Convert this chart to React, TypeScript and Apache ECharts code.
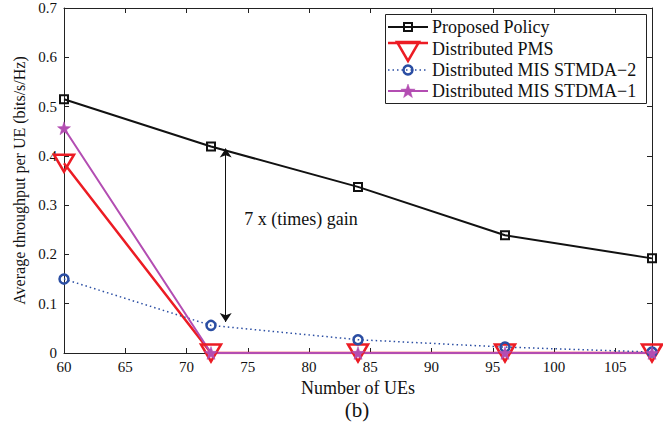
import React, { useEffect, useRef } from 'react';
import * as echarts from 'echarts';

const FONT = '"Liberation Serif", "Times New Roman", serif';

// Number of UEs in the network
const ueCounts = [60, 72, 84, 96, 108];

// Average throughput per UE (bits/s/Hz)
const proposedPolicy = [0.515, 0.419, 0.337, 0.239, 0.192];
const distributedPMS = [0.385, 0, 0, 0, 0];
const misStmda2 = [0.15, 0.056, 0.027, 0.012, 0.002];
const misStdma1 = [0.456, 0, 0, 0, 0];

const seriesNames = [
  'Proposed Policy',
  'Distributed PMS',
  'Distributed MIS STMDA\u22122',
  'Distributed MIS STDMA\u22121',
];

// Gain annotation: arrow between the two curves at x = 73.2
const gainArrowX = 73.2;
const gainArrowTop = 0.415;
const gainArrowBottom = 0.063;
const gainText = '7 x (times) gain';
const gainTextPos = [79.35, 0.2715];

const xMin = 60;
const xMax = 108;
const xStep = 5;
const yMin = 0;
const yMax = 0.7;
const yStep = 0.1;

const BLACK = '#111111';
const RED = '#ec1c24';
const BLUE = '#2b4ea3';
const MAGENTA = '#b34db2';

const STAR_PATH =
  'path://M0,-10L2.35,-3.24L9.51,-3.09L3.8,1.24L5.88,8.09L0,4L-5.88,8.09L-3.8,1.24L-9.51,-3.09L-2.35,-3.24Z';

const pairs = (ys: number[]) => ueCounts.map((x, i) => [x, ys[i]]);

function starPoints(cx: number, cy: number, r: number): number[][] {
  const pts: number[][] = [];
  for (let i = 0; i < 10; i++) {
    const a = (-90 + i * 36) * (Math.PI / 180);
    const rr = i % 2 === 0 ? r : r * 0.4;
    pts.push([cx + rr * Math.cos(a), cy + rr * Math.sin(a)]);
  }
  return pts;
}

const axisLineStyle = { color: '#222', width: 1 };

function frameAxis(extra: any) {
  return {
    type: 'value',
    axisLine: { show: true, onZero: false, lineStyle: axisLineStyle },
    axisTick: { show: true, inside: true, length: 5, lineStyle: axisLineStyle },
    splitLine: { show: false },
    ...extra,
  };
}

function buildLegend() {
  const lx1 = 388;
  const lx2 = 428;
  const cx = 408;
  const tx = 432;
  const rows = [27, 43, 70, 91];
  const textRows = [27, 48.5, 70, 91];
  const els: any[] = [
    {
      type: 'rect',
      shape: { x: 385.5, y: 14.5, width: 261, height: 89 },
      style: { fill: '#fff', stroke: '#222', lineWidth: 1 },
      z: 100,
    },
  ];
  const lineStyles = [
    { stroke: BLACK, lineWidth: 2 },
    { stroke: RED, lineWidth: 2.5 },
    { stroke: BLUE, lineWidth: 1.5, lineDash: [1.5, 3] },
    { stroke: MAGENTA, lineWidth: 2 },
  ];
  rows.forEach((y, i) => {
    els.push({
      type: 'line',
      shape: { x1: lx1, y1: y, x2: lx2, y2: y },
      style: { ...lineStyles[i] },
      z: 101,
    });
  });
  els.push({
    type: 'rect',
    shape: { x: cx - 4, y: rows[0] - 4, width: 8, height: 8 },
    style: { fill: 'none', stroke: BLACK, lineWidth: 2 },
    z: 102,
  });
  els.push({
    type: 'polygon',
    shape: { points: [[cx - 11, 42], [cx + 11, 42], [cx, 61]] },
    style: { fill: 'none', stroke: RED, lineWidth: 2.5 },
    z: 102,
  });
  els.push({
    type: 'circle',
    shape: { cx, cy: rows[2], r: 4.5 },
    style: { fill: 'none', stroke: BLUE, lineWidth: 2.5 },
    z: 102,
  });
  els.push({
    type: 'polygon',
    shape: { points: starPoints(cx, rows[3] + 0.5, 7.5) },
    style: { fill: MAGENTA, stroke: MAGENTA, lineWidth: 0.5 },
    z: 102,
  });
  seriesNames.forEach((name, i) => {
    els.push({
      type: 'text',
      x: tx,
      y: textRows[i],
      style: {
        text: name,
        fill: BLACK,
        fontSize: 18,
        fontFamily: FONT,
        align: 'left',
        verticalAlign: 'middle',
      },
      z: 102,
    });
  });
  els.push({
    type: 'text',
    x: 357,
    y: 410,
    style: {
      text: '(b)',
      fill: BLACK,
      fontSize: 21,
      fontFamily: FONT,
      align: 'center',
      verticalAlign: 'middle',
    },
  });
  return els;
}

export default function App() {
  const ref = useRef<HTMLDivElement>(null);

  useEffect(() => {
    document.body.style.margin = '0';
    const chart = echarts.init(ref.current!, null, { renderer: 'svg' });

    const option: any = {
      animation: false,
      backgroundColor: '#ffffff',
      grid: { left: 64, top: 8, width: 588, height: 345, containLabel: false },
      xAxis: [
        frameAxis({
          position: 'bottom',
          min: xMin,
          max: xMax,
          interval: xStep,
          axisLabel: {
            color: BLACK,
            fontSize: 15,
            fontFamily: FONT,
            margin: 6,
            showMaxLabel: false,
            formatter: (v: number) => (v > 105 ? '' : String(v)),
          },
          name: 'Number of UEs',
          nameLocation: 'middle',
          nameGap: 22,
          nameTextStyle: { color: BLACK, fontSize: 18, fontFamily: FONT },
        }),
        frameAxis({
          position: 'top',
          min: xMin,
          max: xMax,
          interval: xStep,
          axisLabel: { show: false },
        }),
      ],
      yAxis: [
        frameAxis({
          position: 'left',
          min: yMin,
          max: yMax,
          interval: yStep,
          axisLabel: {
            color: BLACK,
            fontSize: 15,
            fontFamily: FONT,
            margin: 7,
          },
          name: 'Average throughput per UE (bits/s/Hz)',
          nameLocation: 'middle',
          nameGap: 37,
          nameTextStyle: { color: BLACK, fontSize: 16, fontFamily: FONT },
        }),
        frameAxis({
          position: 'right',
          min: yMin,
          max: yMax,
          interval: yStep,
          axisLabel: { show: false },
        }),
      ],
      series: [
        {
          name: seriesNames[0],
          type: 'line',
          data: pairs(proposedPolicy),
          symbol: 'rect',
          symbolSize: 8,
          lineStyle: { color: BLACK, width: 2 },
          itemStyle: { color: 'rgba(0,0,0,0)', borderColor: BLACK, borderWidth: 2 },
          markLine: {
            silent: true,
            symbol: ['arrow', 'arrow'],
            symbolSize: [9, 9],
            label: { show: false },
            lineStyle: { color: BLACK, width: 1, type: 'solid' },
            data: [
              [
                { coord: [gainArrowX, gainArrowTop] },
                { coord: [gainArrowX, gainArrowBottom] },
              ],
            ],
          },
          markPoint: {
            silent: true,
            symbol: 'circle',
            symbolSize: 0,
            itemStyle: { color: 'rgba(0,0,0,0)' },
            label: {
              show: true,
              position: 'inside',
              formatter: gainText,
              color: BLACK,
              fontSize: 18,
              fontFamily: FONT,
            },
            data: [{ coord: gainTextPos }],
          },
        },
        {
          name: seriesNames[1],
          type: 'line',
          data: pairs(distributedPMS),
          symbol: 'triangle',
          symbolRotate: 180,
          symbolSize: [20, 17],
          lineStyle: { color: RED, width: 2.5 },
          itemStyle: { color: 'rgba(0,0,0,0)', borderColor: RED, borderWidth: 2.5 },
        },
        {
          name: seriesNames[2],
          type: 'line',
          data: pairs(misStmda2),
          symbol: 'circle',
          symbolSize: 9,
          lineStyle: { color: BLUE, width: 1.5, type: [1.5, 3] },
          itemStyle: { color: 'rgba(0,0,0,0)', borderColor: BLUE, borderWidth: 2.5 },
        },
        {
          name: seriesNames[3],
          type: 'line',
          data: pairs(misStdma1),
          symbol: STAR_PATH,
          symbolSize: 13,
          lineStyle: { color: MAGENTA, width: 2 },
          itemStyle: { color: MAGENTA, borderColor: MAGENTA, borderWidth: 0.5 },
        },
      ],
      graphic: buildLegend(),
    };

    chart.setOption(option);
    return () => chart.dispose();
  }, []);

  return <div ref={ref} style={{ width: 663, height: 424 }} />;
}
